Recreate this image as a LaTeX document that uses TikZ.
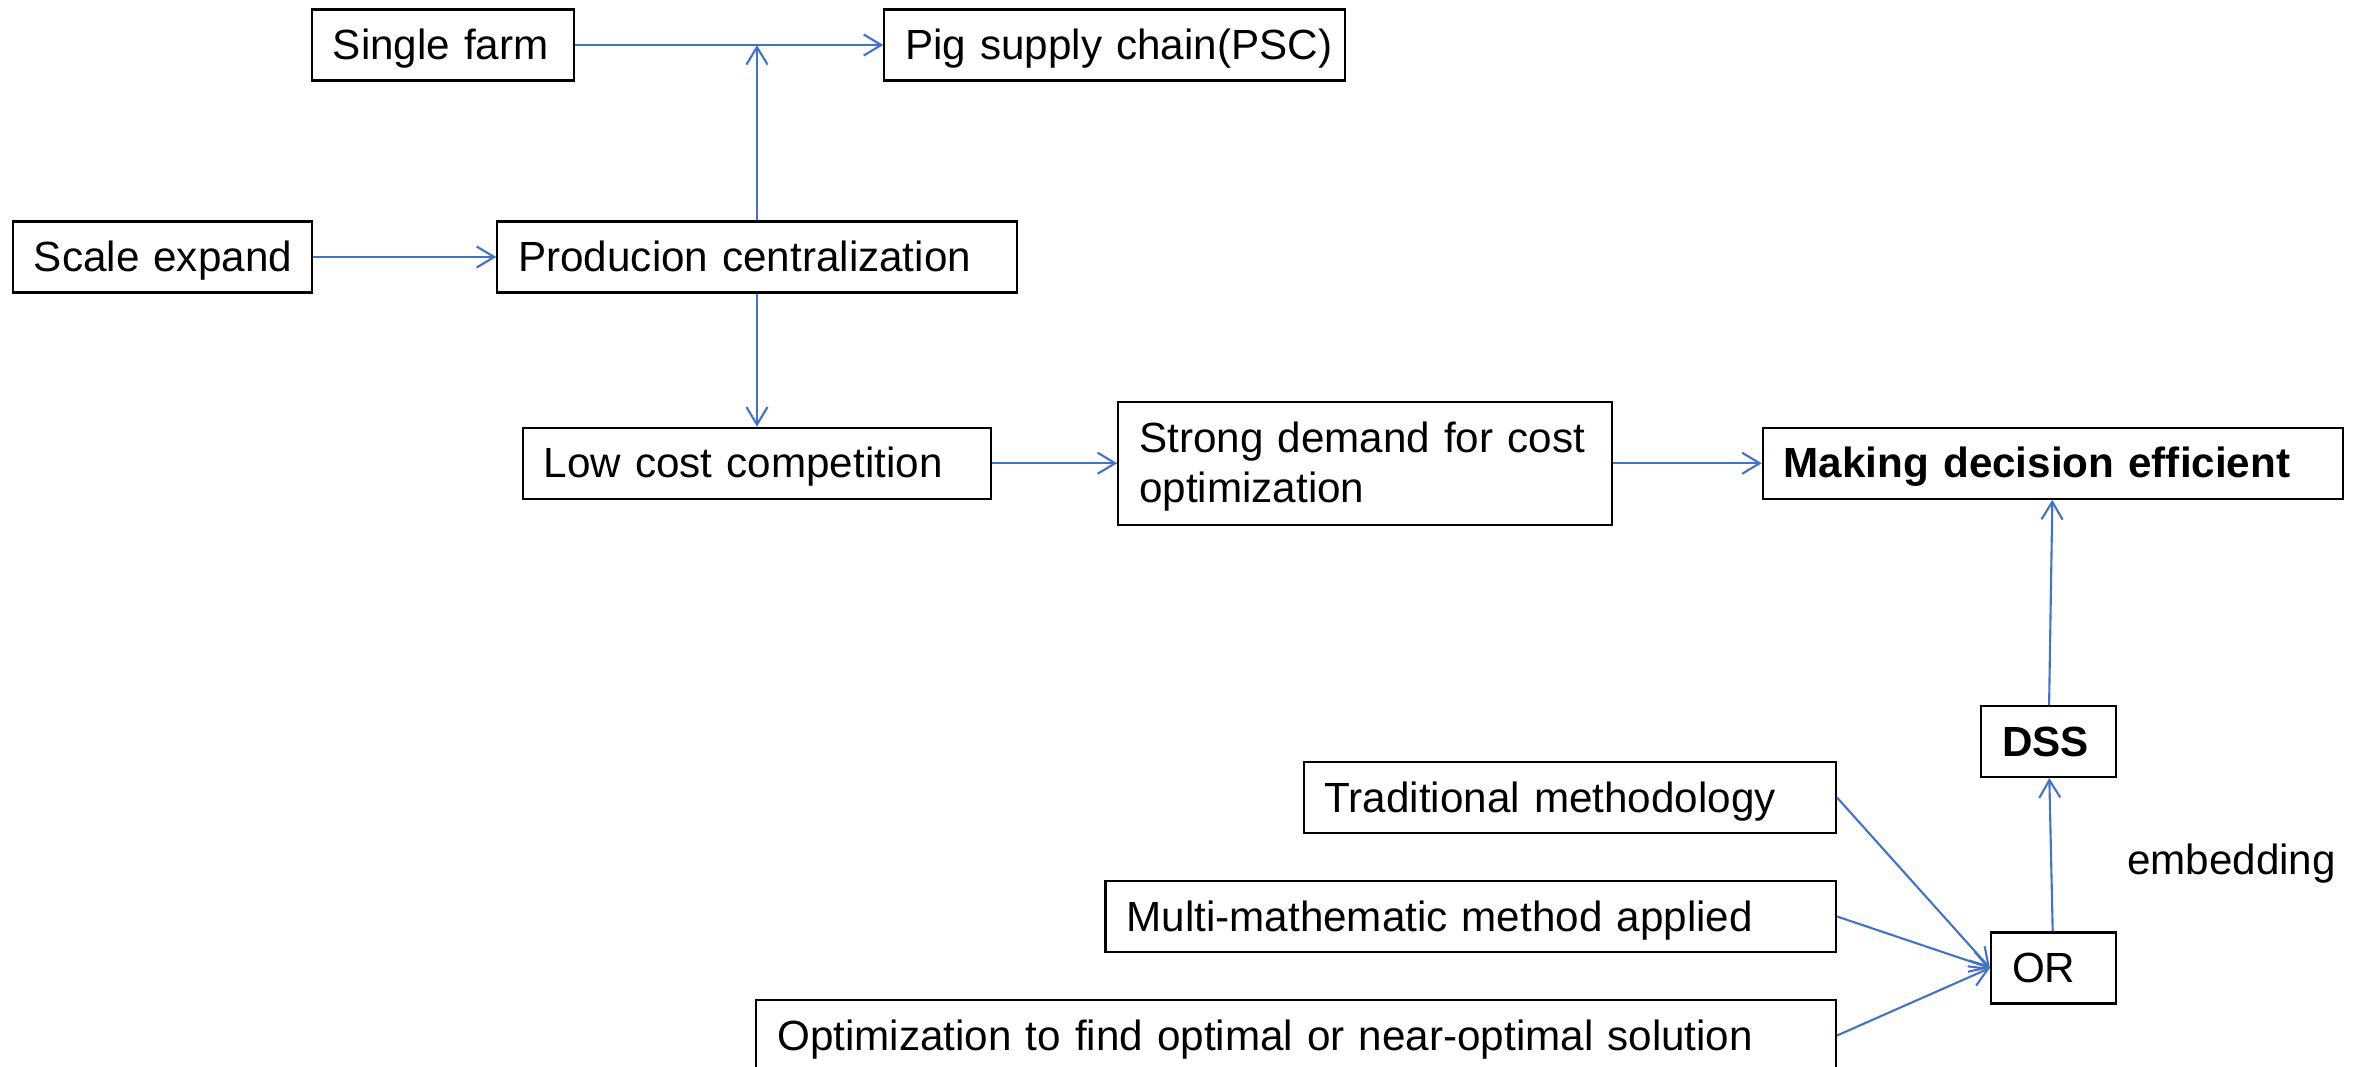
\documentclass[tikz,border=0pt]{standalone}
\usepackage{fontspec}
\setmainfont{Liberation Sans}
\usetikzlibrary{calc}
\usetikzlibrary{graphs}
\usetikzlibrary{positioning}
\usetikzlibrary{arrows.meta}
\definecolor{linkblue}{HTML}{4472C4}
\newcommand{\linestrut}{\rule[-0.212em]{0pt}{1.117em}}

\begin{document}
\begin{tikzpicture}[x=0.01cm, y=-0.01cm, every node/.style={draw, line width=0.6pt, minimum height=7.1mm, inner xsep=2.1mm, inner ysep=0pt, align=left, font=\fontsize{12pt}{14.2pt}\selectfont, execute at begin node=\linestrut, execute at end node=\linestrut}]
        \useasboundingbox (0,0) rectangle (2361,1067);

        \node[text width=2.20cm] (farm) at (443,45) {Single farm};
        \node[text width=4.18cm, right=3.08cm of farm] (psc) {\mbox{Pig supply chain(PSC)}};

        \node[text width=2.57cm] (scale) at (162.5,257) {\mbox{Scale expand}};
        \node[text width=4.77cm, right=1.83cm of scale] (prod) {Producion centralization};
        \coordinate (join) at (prod.north |- farm.east);

        \node[text width=4.26cm, below=1.33cm of prod] (low) {Low cost competition};
        \node[text width=4.51cm, minimum height=12.3mm, right=1.25cm of low] (strong) {Strong demand for cost\\optimization};
        \node[text width=5.38cm, font=\fontsize{12pt}{14.2pt}\selectfont\bfseries, right=1.49cm of strong] (making) {Making decision efficient};

        \node[text width=0.93cm, font=\fontsize{12pt}{14.2pt}\selectfont\bfseries] (dss) at (2048.5,741.5) {DSS};
        \node[text width=0.83cm] (or) at (2053.5,968) {OR};
        \coordinate (or port) at (or.west);

        \node[draw=none, anchor=west, inner sep=0pt] (embed) at (2126,860) {embedding};

        \node[text width=4.90cm, anchor=east] (trad) at (1837,797.5) {Traditional methodology};
        \coordinate (trad port) at (trad.east);
        \node[text width=6.88cm, anchor=east] (multi) at (1837,916.5) {Multi-mathematic method applied};
        \coordinate (multi port) at (multi.east);
        \node[text width=10.37cm, anchor=east] (optim) at (1837,1035.5) {Optimization to find optimal or near-optimal solution};
        \coordinate (optim port) at (optim.east);

        \graph { [edges={draw=linkblue, line width=0.6pt, arrows={-{Straight Barb[length=5pt,width=6pt]}}}]
            (farm) -> (psc),
            (scale) -> (prod),
            (prod) -> (join),
            (prod) -> (low),
            (low) -> (strong),
            (strong) -> (making),
            {(trad port), (multi port), (optim port)} -> (or port),
            (or) -> (dss),
            (dss) -> (making),
        };
    \end{tikzpicture}
\end{document}
